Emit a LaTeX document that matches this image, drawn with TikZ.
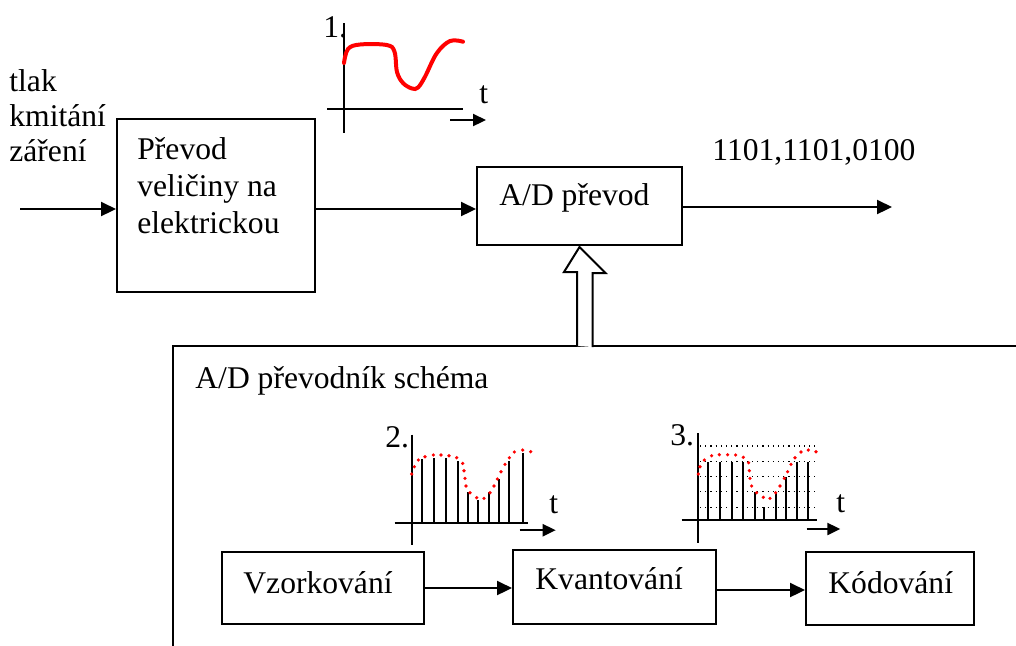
\documentclass[tikz,border=0pt]{standalone}
\usepackage{fontspec}
\setmainfont{Liberation Serif}
\usetikzlibrary{arrows.meta}
\begin{document}
\begin{tikzpicture}[x=0.5pt,y=-0.5pt,
  lbl/.style={inner sep=0pt, anchor=base west, font=\fontsize{15.8}{18.5}\selectfont, align=left},
  blk/.style={draw, line width=1pt, inner sep=0pt},
  arr/.style={line width=1.1pt, -{Triangle[length=7.5pt,width=7pt]}},
  sarr/.style={line width=1.1pt, -{Triangle[length=6.5pt,width=6pt]}},
  ax/.style={line width=1pt},
  qline/.style={line width=0.6pt, dotted},
  rdot/.style={fill=red, draw=none},
]
\useasboundingbox (0,0) rectangle (1016,645);

% ---- top chain ----
\node[blk, minimum width=99pt, minimum height=86.5pt] (conv) at (216,205.5) {};
\node[blk, minimum width=102.5pt, minimum height=39pt] (ad) at (579.5,206) {};
\coordinate (in) at (20,209);
\coordinate (out) at (892,207);
\draw[arr] (in) -- (in -| conv.west);
\draw[arr] (conv.east |- 0,209) -- (ad.west |- 0,209);
\draw[arr] (ad.east |- out) -- (out);

% multi-line nodes: base anchor sits on the last line
\node[lbl, font=\fontsize{15.8}{17.5}\selectfont] (inlbl) at (9,161) {tlak\\kmitání\\záření};
\node[lbl] (convlbl) at (137,233) {Převod\\veličiny na\\elektrickou};
\node[lbl] (adlbl) at (499,205) {A/D převod};
\node[lbl] (code) at (712,160) {1101,1101,0100};

% ---- lower frame ----
\coordinate (fbl) at (173,646);
\coordinate (ftl) at (173,346);
\coordinate (ftr) at (1017,346);
\draw[line width=1pt] (fbl) -- (ftl) -- (ftr);
\node[lbl] (framelbl) at (195,388) {A/D převodník schéma};

% hollow arrow from frame to A/D box
\coordinate (hb) at (590,346);
\draw[line width=1pt, fill=white] (hb) ++(-13,0) -- ++(0,-74) -- ++(-13,0) -- (ad.south |- 0,247) -- ++(26,26) -- ++(-13,0) -- ++(0,74);

\node[blk, minimum width=101pt, minimum height=36pt] (vz) at (323,588) {};
\node[blk, minimum width=101.5pt, minimum height=37pt] (kv) at (614.5,587) {};
\node[blk, minimum width=84pt, minimum height=36.5pt] (kod) at (890,588.5) {};
\draw[arr] (vz.east) -- (kv.west |- vz.east);
\draw[arr] (kv.east |- 0,590) -- (kod.west |- 0,590);
\node[lbl] (vzlbl) at (243,593) {Vzorkování};
\node[lbl] (kvlbl) at (535,589) {Kvantování};
\node[lbl] (kodlbl) at (828,593) {Kódování};

% ---- plot 1 ----
\draw[ax] (344,23) -- (344,133);
\draw[ax] (327,109) -- (463,109);
\draw[sarr] (450,120) -- (486,120);
\node[lbl] (p1n) at (323,37) {1.};
\node[lbl] (p1t) at (479,103) {t};
\draw[red, line width=2pt, line cap=round] plot[smooth, tension=0.6] coordinates {
 (344,63) (348,49) (360,44.5) (386.7,45) (394.5,51.7) (397,72) (403,83) (412,88.5) (418,87.5) (425,76.7) (436.7,53.3) (450,41) (463,41.7)};

% ---- plot 2 ----
\begin{scope}[shift={(411.7,522.7)}]
\draw[ax] (0,-88) -- (0,22);
\draw[ax] (-17,0) -- (116,0);
\draw[sarr] (108,7.5) -- (144,7.5);
\foreach \sx/\sy in {10/-63.4, 22.3/-64.4, 34/-64.4, 46/-61.7, 56/-31, 66/-22.7, 77.6/-31, 87.6/-43.4, 97.6/-62, 111/-69.4}
  \draw[ax] (\sx,0) -- (\sx,\sy);
\foreach \dx/\dy in {0/-48.7, 2.7/-56, 6.7/-62.7, 13.3/-66, 21.7/-67.7, 29.3/-67.7, 37.3/-67, 45/-65, 51/-59.3, 52.3/-52, 53.3/-44.3, 54.3/-36.7, 58.3/-30, 65/-25, 72.3/-24.3, 78.3/-30, 82.3/-36.7, 85.7/-43.7, 89.3/-51, 93.3/-58.3, 97.7/-65, 102.7/-70.7, 111/-72.7, 119/-71}
  \fill[red] (\dx,\dy) circle[radius=0.9pt];
\end{scope}
\node[lbl] (p2n) at (385,447) {2.};
\node[lbl] (p2t) at (549,513) {t};

% ---- plot 3 ----
\begin{scope}[shift={(698.3,520)}]
\foreach \ly in {-74,-58.3,-43.3,-28.3,-12.7}
  \draw[qline] (1.7,\ly) -- (117,\ly);
\draw[ax] (0,-87) -- (0,23);
\draw[ax] (-16.6,0) -- (118.4,0);
\draw[sarr] (108.4,9) -- (142,9);
\foreach \sx/\sy in {10/-58.3, 21.7/-58.3, 33.4/-58.3, 45/-58.3, 56.7/-28.3, 65.7/-12.7, 77.7/-28.3, 87.7/-43.3, 98.4/-58.3, 109.4/-58.3}
  \draw[ax] (\sx,0) -- (\sx,\sy);
\foreach \dx/\dy in {0/-46, 1.7/-53.3, 6/-60, 13.3/-64.3, 21/-65.3, 29.3/-65.3, 37.3/-65, 45/-62.7, 50.3/-57.3, 51/-49.3, 51.7/-41.7, 53.3/-34, 58.3/-27.3, 65/-22.7, 71.7/-21.7, 77.3/-27.3, 81.7/-34, 86/-41.7, 89.3/-48.3, 92.7/-55.7, 96.7/-62.3, 102.7/-68, 110/-70, 117.7/-68.3}
  \fill[red] (\dx,\dy) circle[radius=0.9pt];
\end{scope}
\node[lbl] (p3n) at (670,445) {3.};
\node[lbl] (p3t) at (836,512) {t};
\end{tikzpicture}
\end{document}
